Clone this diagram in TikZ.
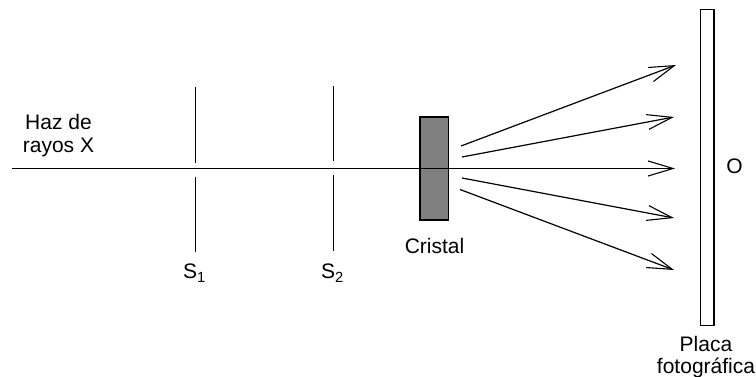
\documentclass[tikz,border=0pt]{standalone}
\usepackage{fontspec}
\setmainfont{Liberation Sans}
\usetikzlibrary{arrows.meta}
\tikzset{
  ln/.style={line width=1.2pt,black},
  ray/.style={ln,-{Straight Barb[length=25pt,width=15pt,line width=1.1pt]}},
  lab/.style={font=\fontsize{21pt}{23pt}\selectfont,inner sep=0pt,align=center,text=black},
}
\begin{document}
\begin{tikzpicture}[x=1pt,y=-1pt]
\useasboundingbox (0,0) rectangle (756,377);
\fill[white] (0,0) rectangle (756,377);
% crystal and plate
\node[draw=black,fill=black!50,line width=1.2pt,minimum width=28.5pt,minimum height=103pt,inner sep=0pt,outer sep=0pt] (crystal) at (434.25,168.5) {};
\node[draw=black,fill=white,line width=1.2pt,minimum width=13.5pt,minimum height=316pt,inner sep=0pt,outer sep=0pt] (plate) at (707.25,167.2) {};
% beam
\coordinate (src) at (12,168.5);
\coordinate (e3) at (675,168.5);
\draw[ray] (src) -- (e3);
% slits
\coordinate (s1a) at (195.3,87); \coordinate (s1b) at (195.3,163);
\coordinate (s1c) at (195.3,177); \coordinate (s1d) at (195.3,252);
\coordinate (s2a) at (333.6,86); \coordinate (s2b) at (333.6,161.5);
\coordinate (s2c) at (333.2,175); \coordinate (s2d) at (333.2,251);
\draw[ln] (s1a) -- (s1b); \draw[ln] (s1c) -- (s1d);
\draw[ln] (s2a) -- (s2b); \draw[ln] (s2c) -- (s2d);
% diffracted rays
\coordinate (b1) at (461,146); \coordinate (e1) at (676,65);
\coordinate (b2) at (462,157); \coordinate (e2) at (674,117);
\coordinate (b4) at (462,178); \coordinate (e4) at (674,218);
\coordinate (b5) at (460,189.5); \coordinate (e5) at (674,270);
\draw[ray] (b1) -- (e1);
\draw[ray] (b2) -- (e2);
\draw[ray] (b4) -- (e4);
\draw[ray] (b5) -- (e5);
% labels
\node[lab,anchor=base] (haz) at (58.5,130) {Haz de};
\node[lab,anchor=base] (rayos) at (58.5,153) {rayos X};
\node[lab,anchor=base] (crist) at (434.5,254) {Cristal};
\node[lab,anchor=base] (sa) at (194.5,279) {S\textsubscript{1}};
\node[lab,anchor=base] (sb) at (332.5,279) {S\textsubscript{2}};
\node[lab,anchor=base] (o) at (734.5,174) {O};
\node[lab,anchor=base] (pla) at (706,351) {Placa};
\node[lab,anchor=base] (fot) at (706,373) {fotográfica};
\end{tikzpicture}
\end{document}
